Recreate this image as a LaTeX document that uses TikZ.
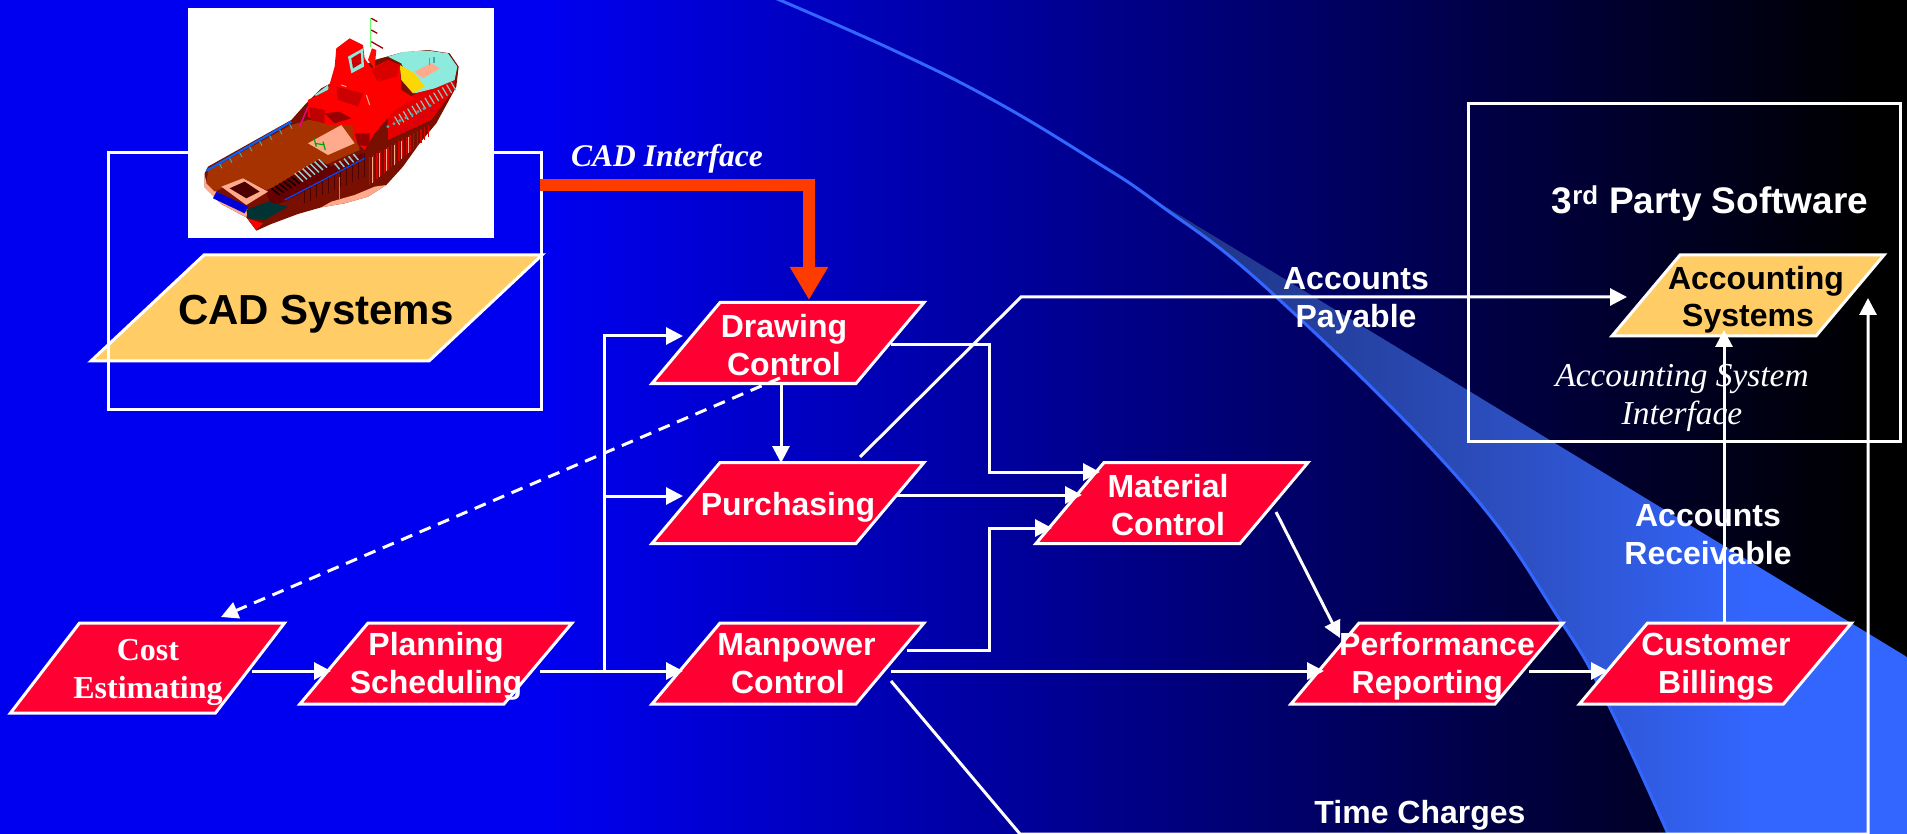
\documentclass[tikz,border=0pt]{standalone}
\usepackage{fontspec}
\setmainfont{Liberation Sans}
\newfontfamily\tnr{Liberation Serif}
\usetikzlibrary{arrows.meta}
\definecolor{redc}{RGB}{255,0,51}
\definecolor{orc}{RGB}{255,204,102}
\definecolor{barc}{RGB}{255,60,0}
\definecolor{arcc}{RGB}{51,102,255}
\definecolor{bgA}{RGB}{0,0,240}
\definecolor{swA}{RGB}{28,48,125}
\definecolor{swB}{RGB}{45,80,195}
\definecolor{hullc}{RGB}{120,15,0}
\definecolor{deckc}{RGB}{165,50,0}
\definecolor{pinkc}{RGB}{255,170,140}
\definecolor{cyanc}{RGB}{140,235,220}
\definecolor{tealc}{RGB}{70,170,170}
\pgfdeclarehorizontalshading{bgshade}{100bp}{color(0bp)=(bgA); color(39.4bp)=(bgA); color(74bp)=(black); color(100bp)=(black)}
\pgfdeclarehorizontalshading{swshade}{100bp}{color(0bp)=(swA); color(25bp)=(swA); color(50bp)=(swB); color(65bp)=(arcc); color(100bp)=(arcc)}
\tikzset{
 x=1pt,y=-1pt,
 para/.style={rectangle,draw=white,line width=3pt,inner sep=0pt,outer sep=0pt},
 redp/.style={para,fill=redc},
 orp/.style={para,fill=orc},
 stdp/.style={xslant=0.84,minimum width=204pt,minimum height=81pt},
 framebox/.style={draw=white,line width=3pt,inner sep=0pt,outer sep=0pt},
 lab/.style={text=white,font=\fontsize{32pt}{38pt}\selectfont\bfseries,align=center,inner sep=0pt,anchor=base},
 blab/.style={lab,text=black},
 slab/.style={lab,font=\fontsize{32pt}{38pt}\selectfont\tnr\bfseries},
 ilab/.style={lab,font=\fontsize{33.4pt}{38pt}\selectfont\tnr\itshape},
 conn/.style={draw=white,line width=3pt,-{Triangle[length=17pt,width=17pt]}},
 dashc/.style={conn,dash pattern=on 12pt off 8pt},
 barconn/.style={draw=barc,line width=12pt,-{Triangle[length=33pt,width=36pt]}}
}
\begin{document}
\begin{tikzpicture}
\useasboundingbox (0,0) rectangle (1907,834);
\shade[shading=bgshade] (0,0) rectangle (1907,834);
% swoosh
\shade[shading=swshade] plot[smooth,tension=0.7] coordinates {(1143,193) (1200,235) (1272,293) (1460,480) (1560,620) (1608,704) (1669,836)} -- (1907,836) -- (1907,657) -- cycle;
\draw[arcc,line width=3pt] plot[smooth,tension=0.7] coordinates {(775,-2) (893,50) (993,100) (1093,160) (1160,205) (1272,293) (1460,480) (1560,620) (1608,704) (1669,836)};

% CAD box, parallelogram
\node[orp,xslant=1.066,minimum width=338pt,minimum height=106pt] (cad) at (316.5,308) {};
\node[framebox,minimum width=433pt,minimum height=256pt] (cadframe) at (324.5,281) {};
% ship picture
\node[fill=white,minimum width=306pt,minimum height=230pt,inner sep=0pt,outer sep=0pt] (ship) at (341,123) {};
\begin{scope}[shift={(188,10)},x=0.3333pt,y=-0.3333pt]
 \fill[hullc] (50,490) -- (60,470) -- (310,330) -- (350,285) -- (400,235) -- (560,150) -- (640,128) -- (720,120) -- (785,130) -- (812,170) -- (805,230) -- (745,340) -- (695,400) -- (645,470) -- (595,525) -- (540,560) -- (470,580) -- (400,592) -- (330,612) -- (250,642) -- (205,662) -- (175,622) -- (100,582) -- (50,532) -- cycle;
 \fill[pinkc] (400,592) -- (470,580) -- (540,560) -- (595,525) -- (560,530) -- (500,555) -- (430,575) -- cycle;
 \fill[pinkc] (50,495) -- (50,532) -- (100,582) -- (175,622) -- (180,600) -- (85,545) -- (55,515) -- cycle;
 \foreach \i in {0,...,16} {\draw[red!85!black,line width=1.3pt] (545+\i*11,440-\i*6) -- (545+\i*11,525-\i*9);}
 \foreach \i in {0,...,5} {\draw[pinkc,line width=0.7pt] (552+\i*22,440-\i*12) -- (552+\i*22,520-\i*18);}
 \foreach \i in {0,...,10} {\draw[black!70!red,line width=1.2pt] (350+\i*18,510-\i*8) -- (350+\i*18,580-\i*8);}
 \draw[tealc,line width=1pt] (455,500) -- (455,570);
 \fill[red!90!black] (600,300) -- (720,230) -- (800,190) -- (800,235) -- (730,330) -- (600,390) -- cycle;
 \foreach \i in {0,...,13} {\draw[cyanc!70!gray,line width=1.2pt] (620+\i*13,320-\i*8) -- (635+\i*13,345-\i*8);}
 \foreach \i in {0,...,7} {\fill[tealc] (600+\i*18,350-\i*9) circle[radius=5];}
 \foreach \i in {0,...,7} {\fill[purple] (640+\i*13,365-\i*9) circle[radius=4];}
 \fill[cyanc] (600,140) -- (650,125) -- (720,122) -- (780,130) -- (808,170) -- (800,210) -- (740,235) -- (680,250) -- (640,160) -- cycle;
 \fill[yellow!75!orange] (635,165) -- (680,190) -- (710,230) -- (675,250) -- (640,210) -- cycle;
 \fill[pinkc] (680,185) -- (730,160) -- (755,175) -- (705,205) -- cycle;
 \draw[tealc,line width=1.5pt] (725,145) -- (725,165) (738,140) -- (738,160);
 \fill[cyanc] (380,255) -- (420,225) -- (425,245) -- (395,265) -- cycle;
 \fill[deckc] (60,482) -- (310,345) -- (360,330) -- (500,340) -- (515,420) -- (400,470) -- (235,540) -- (165,505) -- (80,545) -- (55,520) -- cycle;
 \draw[blue!60!cyan,line width=2pt] (55,482) -- (310,335);
 \foreach \i in {0,...,7} {\draw[tealc,line width=1pt] (95+\i*30,462-\i*17) -- (102+\i*30,475-\i*17);}
 \fill[pinkc] (360,400) -- (460,345) -- (500,400) -- (420,435) -- cycle;
 \draw[green!65!black,line width=1.2pt] (378,385) -- (385,410) (405,395) -- (412,420) (380,400) -- (410,405);
 \fill[black!60!red] (235,545) -- (390,450) -- (430,470) -- (525,430) -- (525,450) -- (300,570) -- (250,590) -- cycle;
 \foreach \i in {0,...,6} {\draw[tealc!60!white,line width=1.5pt] (320+\i*12,490-\i*7) -- (345+\i*12,515-\i*7);}
 \foreach \i in {0,...,4} {\draw[tealc!60!white,line width=1.5pt] (440+\i*14,460-\i*7) -- (455+\i*14,478-\i*7);}
 \foreach \i in {0,...,5} {\draw[black,line width=1.3pt] (250+\i*12,535-\i*7) -- (275+\i*12,555-\i*7);}
 \draw[blue!70!cyan,line width=1.2pt] (290,570) -- (530,445);
 \fill[pinkc] (100,530) -- (165,505) -- (240,545) -- (175,585) -- cycle;
 \fill[black!70!red] (125,535) -- (170,515) -- (215,545) -- (175,565) -- cycle;
 \fill[blue!85!black] (85,545) -- (180,590) -- (170,610) -- (75,565) -- cycle;
 \fill[black!60!teal] (175,600) -- (240,575) -- (300,590) -- (230,630) -- (180,625) -- cycle;
 \fill[red] (178,625) -- (225,640) -- (205,660) -- cycle;
 \fill[red] (360,270) -- (420,240) -- (440,170) -- (445,115) -- (485,85) -- (525,105) -- (530,145) -- (550,175) -- (600,150) -- (635,165) -- (640,240) -- (680,265) -- (620,300) -- (560,370) -- (530,420) -- (495,385) -- (495,345) -- (420,345) -- (360,320) -- cycle;
 \fill[red!75!black] (360,290) -- (410,300) -- (410,340) -- (370,330) -- cycle;
 \fill[red!60!black] (410,310) -- (455,305) -- (490,325) -- (440,340) -- cycle;
 \fill[red!60!black] (500,370) -- (545,370) -- (545,410) -- (510,405) -- cycle;
 \fill[red!80!black] (445,230) -- (525,250) -- (510,290) -- (450,270) -- cycle;
 \fill[red!85!black] (550,180) -- (600,150) -- (635,165) -- (625,200) -- (570,215) -- cycle;
 \fill[cyanc] (480,140) -- (525,115) -- (528,170) -- (490,190) -- cycle;
 \fill[red!80!black] (490,145) -- (518,128) -- (520,160) -- (495,175) -- cycle;
 \draw[pinkc,line width=1pt] (460,225) -- (475,230) (535,255) -- (545,285);
 \draw[magenta,line width=1.5pt] (335,350) -- (360,290);
 \draw[green!60!white,line width=1.3pt] (548,25) -- (548,110);
 \draw[red!60!black,line width=1.3pt] (550,25) -- (568,35) (550,60) -- (568,70) (550,95) -- (585,115);
 \fill[red!90!orange] (540,150) -- (552,115) -- (565,120) -- (560,175) -- cycle;
\end{scope}

% process nodes
\node[redp,stdp] (drawing) at (788,343) {};
\node[redp,stdp] (purchasing) at (788,503) {};
\node[redp,stdp] (manpower) at (788,663.5) {};
\node[redp,stdp] (material) at (1172,503) {};
\node[redp,xslant=0.767,minimum height=90pt,minimum width=205pt] (cost) at (147.5,668) {};
\node[redp,stdp] (planning) at (436,663.5) {};
\node[redp,stdp] (performance) at (1427,663.5) {};
\node[redp,stdp] (customer) at (1715.5,663.5) {};
\node[framebox,minimum width=432pt,minimum height=337pt] (thirdparty) at (1684,272.5) {};
\node[orp,stdp] (accounting) at (1748,295.5) {};

% connector ends
\coordinate (barS) at (540,185); \coordinate (barM) at (809,185); \coordinate (barE) at (809,300);
\coordinate (costO) at (252,671); \coordinate (planI) at (331,671);
\coordinate (planO) at (540,671); \coordinate (manI) at (683,671);
\coordinate (busB) at (604,671); \coordinate (busT) at (604,336); \coordinate (drawI) at (683,336);
\coordinate (busM) at (604,496); \coordinate (purI) at (683,496);
\coordinate (drawD) at (781,385); \coordinate (purT) at (781,463);
\coordinate (drawO) at (891,345); \coordinate (drawMa) at (989,345); \coordinate (drawMb) at (989,472); \coordinate (matIa) at (1100,472);
\coordinate (purO) at (895,495); \coordinate (matIb) at (1082,495);
\coordinate (manO) at (907,650); \coordinate (manMa) at (989,650); \coordinate (manMb) at (989,528); \coordinate (matIc) at (1052,528);
\coordinate (manOb) at (891,671); \coordinate (perI) at (1324,671);
\coordinate (matO) at (1276,512); \coordinate (perIb) at (1340,638);
\coordinate (perO) at (1529,671); \coordinate (cusI) at (1608,671);
\coordinate (cusT) at (1724,623); \coordinate (accB) at (1724,330);
\coordinate (purU) at (860,457); \coordinate (purV) at (1021,297); \coordinate (accI) at (1627,297);
\coordinate (manP) at (891,681); \coordinate (manQ) at (1020,834); \coordinate (corner) at (1868,834); \coordinate (accR) at (1868,298);
\coordinate (drawS) at (780,378); \coordinate (costT) at (221,617);

% connectors
\draw[barconn] (barS) -- (barM) -- (barE);
\draw[conn] (costO) -- (planI);
\draw[conn] (planO) -- (manI);
\draw[conn] (busB) -- (busT) -- (drawI);
\draw[conn] (busM) -- (purI);
\draw[conn] (drawD) -- (purT);
\draw[conn] (drawO) -- (drawMa) -- (drawMb) -- (matIa);
\draw[conn] (purO) -- (matIb);
\draw[conn] (manO) -- (manMa) -- (manMb) -- (matIc);
\draw[conn] (manOb) -- (perI);
\draw[conn] (matO) -- (perIb);
\draw[conn] (perO) -- (cusI);
\draw[conn] (cusT) -- (accB);
\draw[conn] (purU) -- (purV) -- (accI);
\draw[conn] (manP) -- (manQ) -- (corner) -- (accR);
\draw[dashc] (drawS) -- (costT);

% labels
\node[blab,font=\fontsize{42pt}{48pt}\selectfont\bfseries] (cadT) at (316,325) {CAD Systems};
\node[lab,font=\fontsize{31.5pt}{34pt}\selectfont\tnr\bfseries\itshape] (cadI) at (667,167) {CAD Interface};
\node[slab] (costL) at (148,698) {Cost\\Estimating};
\node[lab] (planL) at (436,693) {Planning\\Scheduling};
\node[lab] (drawL) at (784,375) {Drawing\\Control};
\node[lab] (purL) at (788,515) {Purchasing};
\node[lab] (manL) at (796.5,693) {Manpower\\Control\hspace*{17pt}};
\node[lab] (matL) at (1168,535) {Material\\Control};
\node[lab] (perL) at (1437,693) {Performance\\Reporting\hspace*{19.5pt}};
\node[lab] (cusL) at (1716,693) {Customer\\Billings};
\node[blab] (accL) at (1756,327) {Accounting\\Systems\hspace*{16pt}};
\node[lab,font=\fontsize{37pt}{43pt}\selectfont\bfseries] (tpL) at (1710,214) {3\textsuperscript{rd} Party Software};
\node[lab] (apL) at (1356,328) {Accounts\\Payable};
\node[lab] (arL) at (1708,564) {Accounts\\Receivable};
\node[ilab] (asL) at (1682,424) {Accounting System\\Interface};
\node[lab] (tcL) at (1420,823) {Time Charges};
\end{tikzpicture}
\end{document}
